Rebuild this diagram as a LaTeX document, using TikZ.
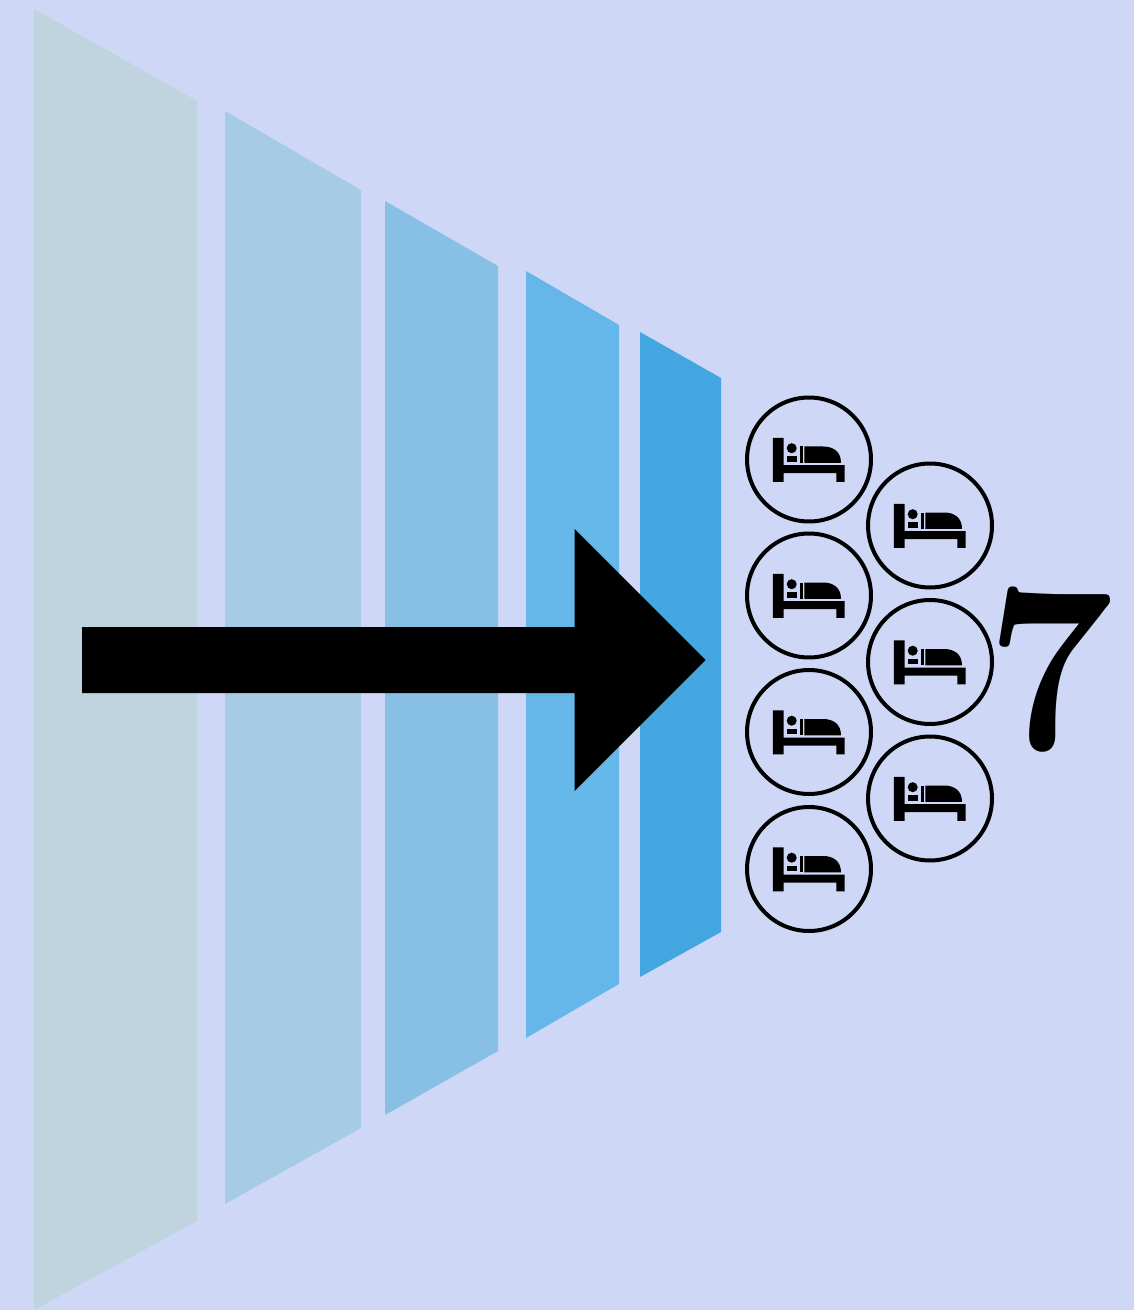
\documentclass[tikz,border=0pt]{standalone}
\usepackage{amsmath}
\usepackage{tikz}

\font\countfont=cmmib10 at 137pt

\definecolor{bgblue}{HTML}{CFD7F6}
\definecolor{panelA}{HTML}{C0D4E0}
\definecolor{panelB}{HTML}{A5CCE4}
\definecolor{panelC}{HTML}{88C0E5}
\definecolor{panelD}{HTML}{64B7E8}
\definecolor{panelE}{HTML}{43A6E0}

\tikzset{
    bedring/.style={circle, draw=black, line width=0.08cm, minimum size=2.48cm, inner sep=0pt},
    bedicon/.pic={
        % Frame and sleeper
        \fill (-36.2,-21.7) -- (-25.3,-21.7) -- (-25.3,5.7) -- (35.7,5.7) -- (35.7,22.3) -- (27.3,22.3) -- (27.3,13.7) -- (-25.3,13.7) -- (-25.3,22.3) -- (-36.2,22.3) -- cycle;
        \fill (-17.3,-11.3) circle (5);
        \fill (-22.3,-3.3) rectangle (-11.7,2.3);
        \fill (-9,-13) rectangle (-5.7,3.3);
        \fill (-4.7,-13) -- (14,-13) .. controls (24,-13) and (32,-8) .. (32,3.3) -- (-4.7,3.3) -- cycle;
    }
}

\begin{document}
\begin{tikzpicture}[x=0.02cm, y=-0.02cm]
    \useasboundingbox (0,0) rectangle (1134,1310);
    \fill[bgblue] (0,0) rectangle (1134,1310);

    % Narrowing panels
    \fill[panelA] (34,9) -- (197,101) -- (197,1221) -- (34,1310) -- cycle;
    \fill[panelB] (225,111) -- (361,190) -- (361,1128) -- (225,1204) -- cycle;
    \fill[panelC] (385,201) -- (498,266) -- (498,1051) -- (385,1115) -- cycle;
    \fill[panelD] (526,271) -- (619,325) -- (619,984) -- (526,1038) -- cycle;
    \fill[panelE] (640,332) -- (721,378) -- (721,932) -- (640,977) -- cycle;

    % Arrow
    \fill[black] (82,627) -- (574.5,627) -- (574.5,529) -- (705.5,660) -- (574.5,791) -- (574.5,693) -- (82,693) -- cycle;

    % Beds
    \foreach \name/\x/\y in {a/809/459.5, b/809/595.5, c/809/732, d/809/869, e/930/525.5, f/930/662, g/930/798.5} {
        \node[bedring] (bed\name) at (\x,\y) {};
        \pic at (\x,\y) {bedicon};
    }

    \node[inner sep=0pt, font=\countfont, xscale=0.93] (count) at (1050,671) {7};
\end{tikzpicture}
\end{document}
